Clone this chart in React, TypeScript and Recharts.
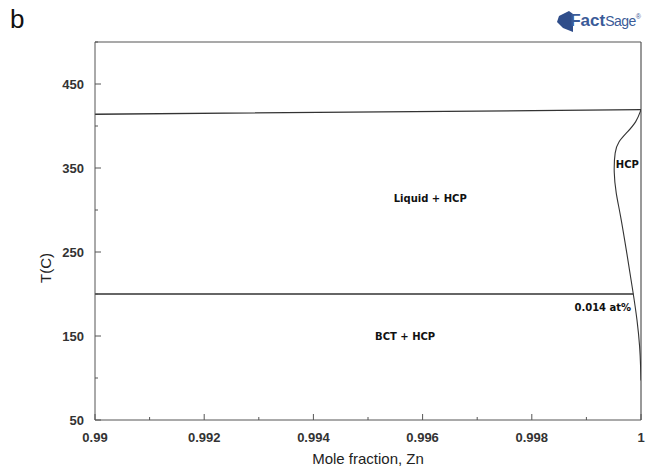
import React from "react";
import { LineChart, Line, XAxis, YAxis, ReferenceDot, ReferenceLine } from "recharts";

// axis ticks (major + minor)
const xTicks = [0.99, 0.991, 0.992, 0.993, 0.994, 0.995, 0.996, 0.997, 0.998, 0.999, 1];
const xTickLabels = ["0.99", "0.992", "0.994", "0.996", "0.998", "1"];
const yTicks = [50, 100, 150, 200, 250, 300, 350, 400, 450, 500];
const yTickLabels = ["50", "150", "250", "350", "450"];

// phase boundaries
const liquidusX = [0.99, 0.9985, 1];
const liquidusT = [414, 418.5, 419.5];
const eutecticX = [0.99, 0.99986];
const eutecticT = [200, 200];
const solvusX = [1, 0.99992, 0.99974, 0.99958, 0.99952, 0.9995, 0.99954, 0.99962, 0.99974, 0.99986, 0.99993, 0.99998, 0.999995, 1];
const solvusT = [419.5, 405, 392, 381, 370, 345, 320, 296, 249, 200, 169, 137, 110, 97];

// region annotations
const regionNames = ["Liquid + HCP", "BCT + HCP", "HCP", "0.014 at%"];
const regionX = [0.99614, 0.99568, 0.99975, 0.9993];
const regionT = [314, 149, 354, 184];

const toPts = (xs: number[], ts: number[]) => xs.map((x, i) => ({ x, T: ts[i] }));
const liquidus = toPts(liquidusX, liquidusT);
const eutectic = toPts(eutecticX, eutecticT);
const solvus = toPts(solvusX, solvusT);

const AXIS = "#555";
const tickFont = { fontFamily: "Liberation Sans, Arial, sans-serif", fontWeight: 700, fontSize: 13, fill: "#333" };

const BottomTick = (props: any) => {
  const { x, y, index } = props;
  const major = index % 2 === 0;
  return (
    <g>
      <line x1={x} y1={y} x2={x} y2={y - (major ? 6 : 3)} stroke={AXIS} />
      {major && (
        <text x={x} y={y + 22} textAnchor="middle" {...tickFont}>
          {xTickLabels[index / 2]}
        </text>
      )}
    </g>
  );
};

const TopTick = (props: any) => {
  const { x, y, index } = props;
  const major = index % 2 === 0;
  return <line x1={x} y1={y} x2={x} y2={y + (major ? 6 : 3)} stroke={AXIS} />;
};

const LeftTick = (props: any) => {
  const { x, y, index } = props;
  const major = index % 2 === 0;
  return (
    <g>
      <line x1={x} y1={y} x2={x + (major ? 6 : 3)} y2={y} stroke={AXIS} />
      {major && (
        <text x={x - 11} y={y + 5} textAnchor="end" {...tickFont}>
          {yTickLabels[index / 2]}
        </text>
      )}
    </g>
  );
};

const RightTick = (props: any) => {
  const { x, y, index } = props;
  const major = index % 2 === 0;
  return <line x1={x} y1={y} x2={x - (major ? 6 : 3)} y2={y} stroke={AXIS} />;
};

const YLabel = (props: any) => {
  const vb = props.viewBox;
  const cx = vb.x + 45;
  const cy = vb.y + vb.height / 2 + 37;
  return (
    <text
      x={cx}
      y={cy}
      transform={`rotate(-90 ${cx} ${cy})`}
      textAnchor="middle"
      dominantBaseline="central"
      fontFamily="Liberation Sans, Arial, sans-serif"
      fontSize={15}
      fill="#222"
    >
      T(C)
    </text>
  );
};

const App = () => (
  <div style={{ position: "absolute", left: 0, top: 0, width: 651, height: 470, background: "#fff" }}>
    <div
      style={{
        position: "absolute",
        left: 10,
        top: 4,
        fontFamily: "Liberation Sans, Arial, sans-serif",
        fontSize: 26,
        color: "#111",
      }}
    >
      b
    </div>
    <div
      style={{
        position: "absolute",
        right: 10,
        top: 10,
        display: "flex",
        alignItems: "center",
        fontFamily: "Liberation Sans, Arial, sans-serif",
        color: "#3b5b98",
      }}
    >
      <svg width={16} height={22} viewBox="0 0 16 22">
        <polygon points="2,6 12,1 16,4 16,22 6,18 0,12" fill="#2f4d8a" />
      </svg>
      <span style={{ fontWeight: 700, fontSize: 17, marginLeft: -3 }}>Fact</span>
      <span style={{ fontSize: 14, letterSpacing: -0.5 }}>Sage</span>
      <span style={{ fontSize: 7, alignSelf: "flex-start", marginTop: 3 }}>®</span>
    </div>
    <LineChart width={651} height={470} margin={{ top: 42, right: 10, bottom: 0, left: 0 }}>
      <XAxis
        dataKey="x"
        type="number"
        domain={[0.99, 1]}
        allowDataOverflow
        ticks={xTicks}
        interval={0}
        tick={<BottomTick />}
        tickLine={false}
        tickSize={0}
        tickMargin={0}
        height={50}
        axisLine={{ stroke: AXIS }}
        label={{
          value: "Mole fraction, Zn",
          position: "insideBottom",
          offset: 6,
          fontFamily: "Liberation Sans, Arial, sans-serif",
          fontSize: 15,
          fill: "#222",
        }}
      />
      <XAxis
        xAxisId="top"
        orientation="top"
        dataKey="x"
        type="number"
        domain={[0.99, 1]}
        allowDataOverflow
        ticks={xTicks}
        interval={0}
        tick={<TopTick />}
        tickLine={false}
        tickSize={0}
        tickMargin={0}
        height={0}
        axisLine={false}
      />
      <YAxis
        type="number"
        domain={[50, 500]}
        allowDataOverflow
        ticks={yTicks}
        interval={0}
        tick={<LeftTick />}
        tickLine={false}
        tickSize={0}
        tickMargin={0}
        width={95}
        axisLine={{ stroke: AXIS }}
        label={<YLabel />}
      />
      <YAxis
        yAxisId="right"
        orientation="right"
        type="number"
        domain={[50, 500]}
        allowDataOverflow
        ticks={yTicks}
        interval={0}
        tick={<RightTick />}
        tickLine={false}
        tickSize={0}
        tickMargin={0}
        width={0}
        axisLine={false}
      />
      <ReferenceLine y={500} stroke={AXIS} strokeWidth={1.2} ifOverflow="visible" />
      <ReferenceLine x={1} stroke={AXIS} strokeWidth={1.2} ifOverflow="visible" />
      <Line data={liquidus} dataKey="T" type="linear" stroke="#333" strokeWidth={1.3} dot={false} isAnimationActive={false} />
      <Line data={eutectic} dataKey="T" type="linear" stroke="#333" strokeWidth={1.3} dot={false} isAnimationActive={false} />
      <Line data={solvus} dataKey="T" type="basis" stroke="#333" strokeWidth={1.1} dot={false} isAnimationActive={false} />
      {regionNames.map((name, i) => (
        <ReferenceDot
          key={name}
          x={regionX[i]}
          y={regionT[i]}
          r={0}
          fill="none"
          stroke="none"
          label={{
            value: name,
            position: "center",
            fontFamily: "DejaVu Sans, sans-serif",
            fontWeight: 700,
            fontSize: 10,
            fill: "#111",
          }}
        />
      ))}
    </LineChart>
  </div>
);

export default App;
